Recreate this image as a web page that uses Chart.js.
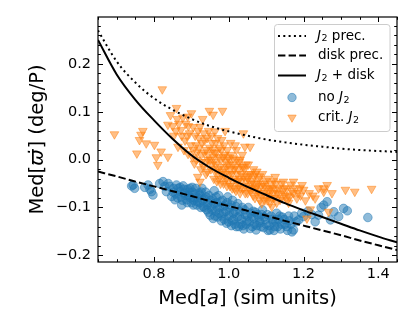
<!DOCTYPE html>
<html><head><meta charset="utf-8">
<script src="https://cdn.jsdelivr.net/npm/chart.js@4/dist/chart.umd.min.js"></script>
<style>html,body{margin:0;padding:0;background:#fff}#wrap{width:415px;height:332px}</style>
</head><body><div id="wrap"><canvas id="c" width="415" height="332"></canvas></div>
<script>
// ---- data ----
const curveX   = [0.65,0.70,0.75,0.80,0.85,0.90,0.95,1.00,1.05,1.10,1.15,1.20,1.25,1.30,1.35,1.40,1.45];
const j2Prec   = [0.270,0.205,0.161,0.128,0.104,0.085,0.070,0.059,0.050,0.042,0.036,0.031,0.027,0.023,0.020,0.018,0.016];
const diskPrec = [-0.025,-0.035,-0.046,-0.056,-0.066,-0.076,-0.087,-0.097,-0.107,-0.117,-0.128,-0.138,-0.148,-0.158,-0.169,-0.179,-0.189];
const j2Disk   = [0.250,0.178,0.125,0.082,0.043,0.009,-0.017,-0.038,-0.057,-0.074,-0.091,-0.106,-0.120,-0.134,-0.148,-0.161,-0.173];

const noJ2 = [[0.740,-0.055],[0.744,-0.053],[0.748,-0.060],[0.775,-0.058],[0.784,-0.053],[0.789,-0.062],[0.793,-0.067],[0.797,-0.074],[0.815,-0.050],[0.824,-0.046],[0.829,-0.056],[0.833,-0.067],[0.838,-0.050],[0.842,-0.056],[0.847,-0.077],[0.851,-0.068],[0.856,-0.084],[0.860,-0.053],[0.865,-0.060],[0.869,-0.067],[0.872,-0.078],[0.874,-0.095],[0.878,-0.055],[0.882,-0.070],[0.887,-0.084],[0.890,-0.062],[0.893,-0.075],[0.896,-0.060],[0.900,-0.090],[0.903,-0.068],[0.905,-0.095],[0.908,-0.080],[0.912,-0.060],[0.916,-0.088],[0.920,-0.070],[0.923,-0.074],[0.925,-0.100],[0.928,-0.060],[0.931,-0.098],[0.934,-0.082],[0.938,-0.068],[0.941,-0.105],[0.944,-0.090],[0.947,-0.075],[0.950,-0.116],[0.953,-0.098],[0.956,-0.082],[0.958,-0.123],[0.961,-0.065],[0.964,-0.108],[0.967,-0.090],[0.970,-0.120],[0.973,-0.075],[0.976,-0.100],[0.980,-0.128],[0.983,-0.085],[0.986,-0.112],[0.990,-0.095],[0.994,-0.133],[0.997,-0.078],[1.000,-0.118],[1.003,-0.100],[1.007,-0.138],[1.010,-0.085],[1.013,-0.125],[1.017,-0.108],[1.020,-0.140],[1.024,-0.092],[1.028,-0.118],[1.032,-0.135],[1.036,-0.100],[1.040,-0.145],[1.044,-0.115],[1.048,-0.128],[1.052,-0.100],[1.057,-0.144],[1.061,-0.120],[1.065,-0.108],[1.069,-0.135],[1.073,-0.147],[1.077,-0.115],[1.082,-0.128],[1.086,-0.140],[1.090,-0.105],[1.095,-0.120],[1.100,-0.135],[1.105,-0.148],[1.110,-0.147],[1.113,-0.118],[1.118,-0.130],[1.123,-0.140],[1.128,-0.112],[1.133,-0.125],[1.138,-0.145],[1.143,-0.120],[1.150,-0.135],[1.157,-0.148],[1.162,-0.128],[1.169,-0.151],[1.173,-0.147],[1.175,-0.118],[1.180,-0.130],[1.187,-0.126],[1.195,-0.112],[1.200,-0.119],[1.212,-0.108],[1.222,-0.115],[1.231,-0.130],[1.240,-0.116],[1.247,-0.100],[1.254,-0.095],[1.263,-0.088],[1.272,-0.126],[1.281,-0.109],[1.294,-0.119],[1.307,-0.102],[1.317,-0.107],[1.372,-0.121],
[0.852,-0.060],[0.858,-0.072],[0.863,-0.080],[0.870,-0.058],[0.876,-0.085],[0.880,-0.062],[0.885,-0.075],[0.889,-0.090],[0.894,-0.068],[0.898,-0.080],[0.902,-0.058],[0.906,-0.085],[0.910,-0.072],[0.914,-0.095],[0.918,-0.080],[0.922,-0.090],[0.926,-0.068],[0.930,-0.085],[0.935,-0.100],[0.939,-0.078],[0.943,-0.095],[0.946,-0.110],[0.951,-0.085],[0.955,-0.105],[0.960,-0.092],[0.963,-0.118],[0.966,-0.078],[0.969,-0.100],[0.974,-0.112],[0.978,-0.088],[0.981,-0.118],[0.985,-0.098],[0.988,-0.125],[0.992,-0.108],[0.996,-0.090],[0.999,-0.130],[1.002,-0.110],[1.006,-0.095],[1.009,-0.128],[1.012,-0.112],[1.016,-0.135],[1.019,-0.098],[1.023,-0.120],[1.027,-0.140],[1.030,-0.108],[1.034,-0.125],[1.038,-0.138],[1.042,-0.105],[1.046,-0.135],[1.050,-0.118],[1.055,-0.130],[1.059,-0.112],[1.063,-0.140],[1.067,-0.122],[1.071,-0.110],[1.075,-0.138],[1.080,-0.120],[1.084,-0.132],[1.088,-0.115],[1.093,-0.142],[1.098,-0.125],[1.103,-0.115],[1.108,-0.138],[1.116,-0.125],[1.121,-0.148],[1.126,-0.130],[1.131,-0.140],[1.136,-0.118],[1.141,-0.135],[1.148,-0.125],[1.155,-0.140],[1.160,-0.118],[1.166,-0.135]];

const critJ2 = [[0.694,0.053],[0.822,0.147],[0.770,0.060],[0.754,0.013],[0.761,0.041],[0.779,0.034],[0.765,0.052],[0.801,0.031],[0.819,0.017],[0.810,-0.011],[0.806,0.005],[0.837,0.006],[0.837,0.073],[0.844,0.093],[0.860,0.108],[0.862,0.085],[0.853,0.050],[0.864,0.027],[0.872,0.062],[0.877,0.088],[0.885,0.075],[0.883,0.040],[0.891,0.012],[0.895,0.055],[0.900,0.097],[0.905,0.068],[0.908,-0.008],[0.912,0.030],[0.917,-0.036],[0.920,0.045],[0.923,0.069],[0.923,-0.046],[0.926,0.010],[0.930,0.085],[0.932,-0.015],[0.935,0.040],[0.940,0.020],[0.943,-0.025],[0.948,0.102],[0.946,0.060],[0.950,0.000],[0.955,0.035],[0.958,0.094],[0.960,-0.040],[0.962,0.015],[0.963,0.059],[0.966,-0.010],[0.970,0.045],[0.972,-0.030],[0.975,0.025],[0.978,-0.050],[0.981,0.041],[0.983,0.102],[0.985,0.005],[0.988,-0.020],[0.990,0.060],[0.993,-0.040],[0.996,0.020],[1.000,-0.010],[1.003,-0.055],[1.005,0.035],[1.008,-0.030],[1.012,0.003],[1.015,-0.060],[1.018,-0.015],[1.020,0.020],[1.024,-0.045],[1.028,-0.005],[1.030,-0.070],[1.033,-0.030],[1.036,0.010],[1.039,0.055],[1.039,-0.015],[1.043,0.027],[1.045,-0.055],[1.048,-0.035],[1.052,-0.010],[1.057,0.027],[1.058,-0.065],[1.062,-0.045],[1.066,-0.020],[1.070,-0.080],[1.075,-0.025],[1.075,-0.056],[1.080,-0.040],[1.085,-0.070],[1.088,-0.091],[1.090,-0.030],[1.095,-0.055],[1.100,-0.075],[1.105,-0.040],[1.110,-0.060],[1.115,-0.098],[1.115,-0.080],[1.120,-0.045],[1.124,-0.036],[1.124,-0.063],[1.130,-0.070],[1.137,-0.084],[1.140,-0.050],[1.146,-0.046],[1.150,-0.075],[1.155,-0.060],[1.160,-0.090],[1.165,-0.052],[1.173,-0.046],[1.173,-0.070],[1.182,-0.081],[1.190,-0.060],[1.196,-0.053],[1.200,-0.063],[1.209,-0.123],[1.218,-0.104],[1.225,-0.075],[1.231,-0.081],[1.240,-0.060],[1.254,-0.067],[1.254,-0.060],[1.263,-0.053],[1.267,-0.109],[1.276,-0.070],[1.312,-0.063],[1.337,-0.067],[1.382,-0.061],
[0.880,0.020],[0.888,0.050],[0.898,0.030],[0.903,0.005],[0.910,0.050],[0.915,0.015],[0.918,0.060],[0.925,-0.020],[0.928,0.035],[0.933,0.055],[0.938,-0.005],[0.942,0.045],[0.945,0.010],[0.952,-0.020],[0.953,0.050],[0.957,0.020],[0.960,-0.005],[0.965,0.035],[0.968,-0.045],[0.973,0.005],[0.977,-0.015],[0.980,0.020],[0.984,-0.035],[0.987,0.030],[0.992,-0.005],[0.995,-0.055],[0.998,0.005],[1.002,-0.030],[1.006,0.010],[1.010,-0.045],[1.014,-0.020],[1.017,0.030],[1.022,-0.030],[1.026,-0.055],[1.030,0.000],[1.034,-0.045],[1.038,-0.060],[1.042,-0.020],[1.047,-0.045],[1.050,-0.070],[1.055,-0.030],[1.060,-0.050],[1.065,-0.075],[1.068,-0.035],[1.072,-0.060],[1.078,-0.050],[1.083,-0.085],[1.087,-0.055],[1.093,-0.070],[1.098,-0.045],[1.103,-0.085],[1.108,-0.065],[1.112,-0.050],[1.118,-0.070],[1.126,-0.050],[1.133,-0.060],[1.145,-0.065],[1.158,-0.075],[1.168,-0.065],[1.185,-0.070],[1.205,-0.085],[1.215,-0.070],
[0.850,0.070],[0.858,0.060],[0.866,0.075],[0.874,0.050],[0.890,0.090],[0.892,0.070],
[0.905,0.020],[0.913,0.000],[0.921,0.025],[0.927,-0.005],[0.934,0.015],[0.939,-0.030],[0.944,0.000],[0.949,0.025],[0.954,-0.010],[0.959,0.005],[0.963,-0.025],[0.967,0.015],[0.971,-0.020],[0.974,-0.040],[0.979,0.000],[0.982,-0.025],[0.986,-0.050],[0.989,0.010],[0.991,-0.030],[0.994,-0.015],[0.999,-0.045],[1.001,0.000],[1.004,-0.020],[1.009,-0.060],[1.011,-0.010],[1.016,-0.040],[1.019,-0.065],[1.021,0.000],[1.025,-0.020],[1.029,-0.040],[1.031,-0.060],[1.035,-0.015],[1.040,-0.035],[1.044,-0.070],[1.046,-0.010],[1.051,-0.040],[1.054,-0.060],[1.059,-0.030],[1.063,-0.060],[1.067,-0.050],[1.071,-0.030],[1.074,-0.070],[1.079,-0.065],[1.082,-0.035],[1.086,-0.075],[1.091,-0.050],[1.096,-0.085],[1.101,-0.060],[1.106,-0.075],[1.111,-0.090],[1.116,-0.060],[1.121,-0.080],[1.128,-0.090],[1.135,-0.072],[1.142,-0.080],[1.148,-0.060],[1.156,-0.085],[1.163,-0.078],[1.178,-0.060],[1.192,-0.075]];

const xTickValues = [0.8, 1.0, 1.2, 1.4];
const yTickValues = [-0.2, -0.1, 0.0, 0.1, 0.2];
const xRange = [0.65, 1.45];
const yRange = [-0.214, 0.298];

// ---- styling ----
const FONT = "'DejaVu Sans', sans-serif";
const BLUE = 'rgba(31,119,180,0.5)';
const ORANGE = 'rgba(255,127,14,0.5)';

const toXY = arr => arr.map(p => ({x: p[0], y: p[1]}));
const curve = ys => curveX.map((x, i) => ({x, y: ys[i]}));

function drawRich(ctx, parts, x, y, align) {
  let total = 0;
  for (const p of parts) { ctx.font = p.font; total += ctx.measureText(p.t).width + (p.dx || 0); }
  let cx = align === 'center' ? x - total / 2 : x;
  for (const p of parts) {
    ctx.font = p.font;
    ctx.fillText(p.t, cx, y + (p.dy || 0));
    cx += ctx.measureText(p.t).width + (p.dx || 0);
  }
}

const decor = {
  id: 'decor',
  afterDraw(chart) {
    const {ctx, chartArea: a, scales: {x, y}} = chart;
    ctx.save();
    ctx.strokeStyle = '#000';
    const seg = (x1, y1, x2, y2) => { ctx.beginPath(); ctx.moveTo(x1, y1); ctx.lineTo(x2, y2); ctx.stroke(); };
    // ticks (inward, all four sides)
    ctx.lineWidth = 1;
    const isMajor = (v, arr) => arr.some(t => Math.abs(t - v) < 1e-6);
    for (let k = 13; k <= 29; k++) {
      const v = k * 0.05; const p = Math.round(x.getPixelForValue(v)) + 0.5;
      const L = isMajor(v, xTickValues) ? 5 : 2.8;
      seg(p, a.bottom, p, a.bottom - L); seg(p, a.top, p, a.top + L);
    }
    for (let k = -10; k <= 14; k++) {
      const v = k * 0.02; const p = Math.round(y.getPixelForValue(v)) + 0.5;
      const L = isMajor(v, yTickValues) ? 5 : 2.8;
      seg(a.left, p, a.left + L, p); seg(a.right, p, a.right - L, p);
    }
    ctx.lineWidth = 1.2;
    ctx.strokeRect(a.left, a.top, a.right - a.left, a.bottom - a.top);

    // axis titles
    ctx.fillStyle = '#000'; ctx.textBaseline = 'alphabetic';
    const F = '19.5px ' + FONT, FI = 'italic 19.5px ' + FONT;
    drawRich(ctx, [{t: 'Med[', font: F}, {t: 'a', font: FI}, {t: '] (sim units)', font: F}], (a.left + a.right) / 2, 304, 'center');
    ctx.save();
    ctx.translate(43, (a.top + a.bottom) / 2);
    ctx.rotate(-Math.PI / 2);
    drawRich(ctx, [{t: 'Med[', font: F}, {t: '\u03D6\u0307', font: FI, dx: 1}, {t: '] (deg/P)', font: F}], 0, 0, 'center');
    ctx.restore();

    // legend
    const bx = 274.5, by = 24.5, bw = 115.5, bh = 107, r = 3;
    ctx.beginPath();
    ctx.moveTo(bx + r, by); ctx.lineTo(bx + bw - r, by); ctx.quadraticCurveTo(bx + bw, by, bx + bw, by + r);
    ctx.lineTo(bx + bw, by + bh - r); ctx.quadraticCurveTo(bx + bw, by + bh, bx + bw - r, by + bh);
    ctx.lineTo(bx + r, by + bh); ctx.quadraticCurveTo(bx, by + bh, bx, by + bh - r);
    ctx.lineTo(bx, by + r); ctx.quadraticCurveTo(bx, by, bx + r, by); ctx.closePath();
    ctx.fillStyle = 'rgba(255,255,255,0.8)'; ctx.fill();
    ctx.strokeStyle = '#cccccc'; ctx.lineWidth = 1; ctx.stroke();

    const rows = [36, 55.5, 75.5, 97.5, 117.5];
    const hx1 = 278, hx2 = 306, tx = 317;
    ctx.strokeStyle = '#000'; ctx.lineWidth = 2; ctx.lineCap = 'butt';
    ctx.setLineDash([2, 3.3]); seg(hx1, rows[0], hx2, rows[0]);
    ctx.setLineDash([7.4, 3.2]); seg(hx1, rows[1], hx2, rows[1]);
    ctx.setLineDash([]); seg(hx1, rows[2], hx2, rows[2]);
    const mx = (hx1 + hx2) / 2;
    ctx.lineWidth = 1;
    ctx.fillStyle = BLUE; ctx.strokeStyle = BLUE;
    ctx.beginPath(); ctx.arc(mx, rows[3], 4.2, 0, Math.PI * 2); ctx.fill(); ctx.stroke();
    ctx.fillStyle = ORANGE; ctx.strokeStyle = ORANGE;
    ctx.beginPath(); ctx.moveTo(mx - 4.2, rows[4] - 2.4); ctx.lineTo(mx + 4.2, rows[4] - 2.4); ctx.lineTo(mx, rows[4] + 4.8); ctx.closePath(); ctx.fill(); ctx.stroke();

    ctx.fillStyle = '#000'; ctx.textBaseline = 'middle';
    const L = '13.5px ' + FONT, LI = 'italic 13.5px ' + FONT, LS = '9.5px ' + FONT;
    const J2 = [{t: 'J', font: LI, dx: 0.5}, {t: '2', font: LS, dy: 3}];
    drawRich(ctx, [...J2, {t: ' prec.', font: L}], tx, rows[0], 'left');
    drawRich(ctx, [{t: 'disk prec.', font: L}], tx + 1, rows[1], 'left');
    drawRich(ctx, [...J2, {t: ' + disk', font: L}], tx, rows[2], 'left');
    drawRich(ctx, [{t: 'no ', font: L}, ...J2], tx + 1, rows[3], 'left');
    drawRich(ctx, [{t: 'crit. ', font: L}, ...J2], tx + 1, rows[4], 'left');
    ctx.restore();
  }
};

const fmt = v => (Math.abs(v) < 1e-9 ? 0 : v).toFixed(1).replace('-', '\u2212');

new Chart(document.getElementById('c'), {
  type: 'scatter',
  data: {
    datasets: [
      {type: 'line', label: 'J2 prec.', data: curve(j2Prec), borderColor: '#000', borderWidth: 2, borderDash: [2, 3.3], pointRadius: 0, cubicInterpolationMode: 'monotone', clip: 0, order: 0},
      {type: 'line', label: 'disk prec.', data: curve(diskPrec), borderColor: '#000', borderWidth: 2, borderDash: [7.4, 3.2], pointRadius: 0, cubicInterpolationMode: 'monotone', clip: 0, order: 0},
      {type: 'line', label: 'J2 + disk', data: curve(j2Disk), borderColor: '#000', borderWidth: 2, pointRadius: 0, cubicInterpolationMode: 'monotone', clip: 0, order: 0},
      {label: 'no J2', data: toXY(noJ2), pointStyle: 'circle', pointRadius: 4.3, backgroundColor: BLUE, borderColor: BLUE, borderWidth: 1, clip: 0, order: 2},
      {label: 'crit. J2', data: toXY(critJ2), pointStyle: 'triangle', rotation: 180, pointRadius: 5, backgroundColor: ORANGE, borderColor: ORANGE, borderWidth: 1, clip: 0, order: 1}
    ]
  },
  options: {
    responsive: false, animation: false, devicePixelRatio: 1, events: [],
    layout: {padding: {left: 0, right: 18, top: 17, bottom: 0}},
    plugins: {legend: {display: false}, tooltip: {enabled: false}},
    scales: {
      x: {type: 'linear', min: xRange[0], max: xRange[1],
          afterBuildTicks: s => { s.ticks = xTickValues.map(v => ({value: v})); },
          afterFit: s => { s.height = 70; },
          grid: {display: false, drawTicks: false}, border: {display: false},
          ticks: {padding: 4, color: '#000', font: {family: FONT, size: 14.5}, callback: v => fmt(v), maxRotation: 0}},
      y: {type: 'linear', min: yRange[0], max: yRange[1],
          afterBuildTicks: s => { s.ticks = yTickValues.map(v => ({value: v})); },
          afterFit: s => { s.width = 98; },
          grid: {display: false, drawTicks: false}, border: {display: false},
          ticks: {padding: 7, color: '#000', font: {family: FONT, size: 14.5}, callback: v => fmt(v)}}
    }
  },
  plugins: [decor]
});
</script></body></html>
